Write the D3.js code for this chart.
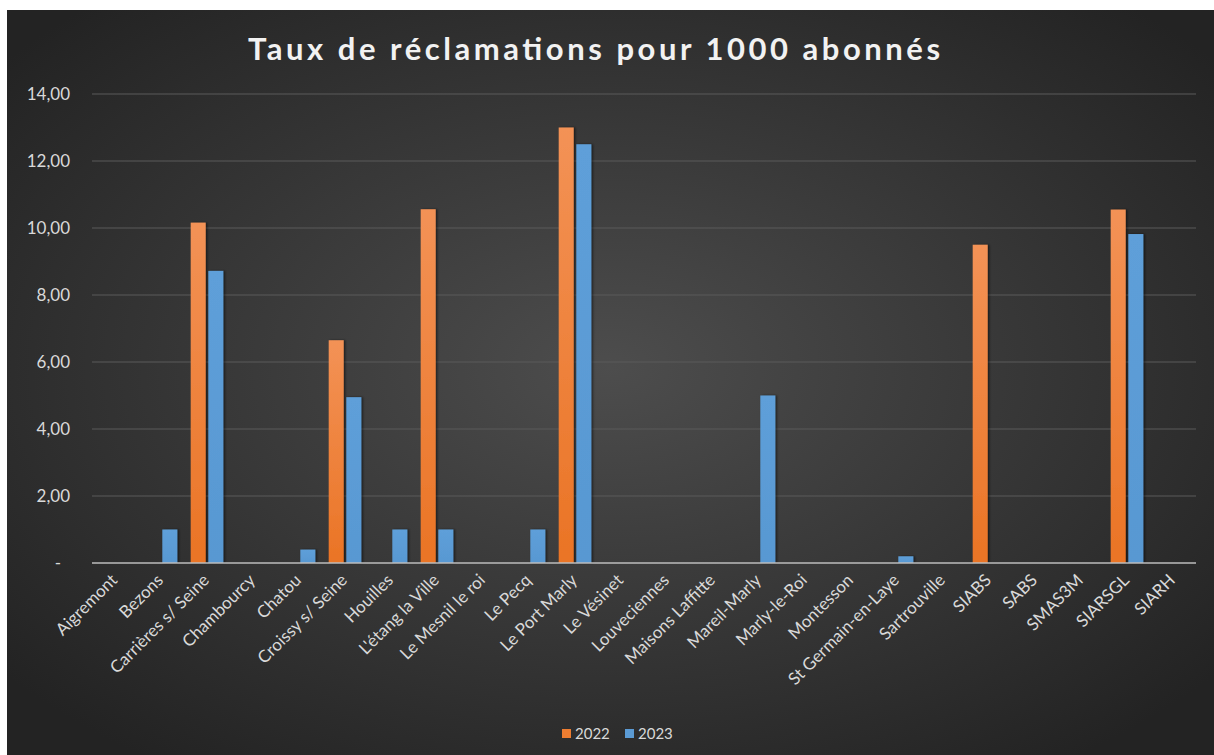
<html>
<head>
<meta charset="utf-8">
<style>
  body { margin: 0; background: #fff; }
  svg { display: block; }
</style>
</head>
<body>
<svg width="1214" height="755" id="chart"></svg>
<script src="https://cdn.jsdelivr.net/npm/d3@7"></script>
<script>
// data
var communes = ["Aigremont", "Bezons", "Carrières s/ Seine", "Chambourcy", "Chatou",
  "Croissy s/ Seine", "Houilles", "L'étang la Ville", "Le Mesnil le roi", "Le Pecq",
  "Le Port Marly", "Le Vésinet", "Louveciennes", "Maisons Laffitte", "Mareil-Marly",
  "Marly-le-Roi", "Montesson", "St Germain-en-Laye", "Sartrouville", "SIABS",
  "SABS", "SMAS3M", "SIARSGL", "SIARH"];
var years = ["2022", "2023"];
var taux2022 = [0, 0, 10.16, 0, 0, 6.65, 0, 10.56, 0, 0, 13.0, 0, 0, 0, 0, 0, 0, 0, 0, 9.5, 0, 0, 10.55, 0];
var taux2023 = [0, 1.0, 8.72, 0, 0.4, 4.95, 1.0, 1.0, 0, 1.0, 12.5, 0, 0, 0, 5.0, 0, 0, 0.2, 0, 0, 0, 0, 9.82, 0];
var yTicks = [0, 2, 4, 6, 8, 10, 12, 14];
var couleurs = {"2022": "#ED7D31", "2023": "#5B9BD5"};

var svg = d3.select("#chart");
var font = "Lato, 'Open Sans', sans-serif";

// background with radial shading
var defs = svg.append("defs");
var rg = defs.append("radialGradient").attr("id", "bg")
  .attr("cx", "50%").attr("cy", "48%").attr("r", "65%");
rg.append("stop").attr("offset", "0%").attr("stop-color", "#4d4d4d");
rg.append("stop").attr("offset", "100%").attr("stop-color", "#232323");

var og = defs.append("linearGradient").attr("id", "g2022")
  .attr("x1", 0).attr("y1", 0).attr("x2", 0).attr("y2", 1);
og.append("stop").attr("offset", "0%").attr("stop-color", "#F39256");
og.append("stop").attr("offset", "100%").attr("stop-color", "#EA7425");
var bg2 = defs.append("linearGradient").attr("id", "g2023")
  .attr("x1", 0).attr("y1", 0).attr("x2", 0).attr("y2", 1);
bg2.append("stop").attr("offset", "0%").attr("stop-color", "#5E9FD9");
bg2.append("stop").attr("offset", "100%").attr("stop-color", "#5898D2");

var sh = defs.append("filter").attr("id", "shadow")
  .attr("x", "-30%").attr("y", "-5%").attr("width", "160%").attr("height", "110%");
sh.append("feDropShadow").attr("dx", 1.5).attr("dy", 0).attr("stdDeviation", 1)
  .attr("flood-color", "#000").attr("flood-opacity", 0.55);

svg.append("rect")
  .attr("x", 7).attr("y", 10).attr("width", 1207).attr("height", 745)
  .attr("fill", "url(#bg)");

var plotLeft = 92, plotRight = 1196, plotTop = 94, plotBottom = 563;

var x = d3.scaleBand().domain(communes).range([plotLeft, plotRight]).padding(0);
var xs = d3.scaleBand().domain(years).range([0, x.bandwidth()])
  .paddingInner(0.15).paddingOuter(0.38);
var y = d3.scaleLinear().domain([0, 14]).range([plotBottom, plotTop]);

// grid lines
svg.append("g").selectAll("line")
  .data(yTicks.filter(function(d) { return d > 0; }))
  .enter().append("line")
  .attr("x1", plotLeft).attr("x2", plotRight)
  .attr("y1", function(d) { return y(d); })
  .attr("y2", function(d) { return y(d); })
  .attr("stroke", "#5a5a5a").attr("stroke-width", 1);

// y labels
svg.append("g").selectAll("text")
  .data(yTicks)
  .enter().append("text")
  .attr("x", function(d) { return d === 0 ? 61 : 70; })
  .attr("y", function(d) { return y(d); })
  .attr("dy", "0.35em")
  .attr("text-anchor", "end")
  .style("font-family", font).style("font-size", "17px").style("fill", "#d9d9d9")
  .text(function(d) { return d === 0 ? "-" : d3.format(".2f")(d).replace(".", ","); });

// bars
var rows = communes.map(function(c, i) {
  return {commune: c, values: [{year: "2022", v: taux2022[i]}, {year: "2023", v: taux2023[i]}]};
});

var groups = svg.append("g").selectAll("g")
  .data(rows)
  .enter().append("g")
  .attr("transform", function(d) { return "translate(" + x(d.commune) + ",0)"; });

groups.selectAll("rect")
  .data(function(d) { return d.values.filter(function(v) { return v.v > 0; }); })
  .enter().append("rect")
  .attr("x", function(d) { return xs(d.year); })
  .attr("width", xs.bandwidth())
  .attr("y", function(d) { return y(d.v); })
  .attr("height", function(d) { return plotBottom - y(d.v); })
  .attr("fill", function(d) { return "url(#g" + d.year + ")"; })
  .attr("filter", "url(#shadow)");

// baseline
svg.append("line")
  .attr("x1", plotLeft).attr("x2", plotRight)
  .attr("y1", plotBottom).attr("y2", plotBottom)
  .attr("stroke", "#bdbdbd").attr("stroke-width", 1.5);

// x labels
svg.append("g").selectAll("text")
  .data(communes)
  .enter().append("text")
  .attr("transform", function(d) {
    return "translate(" + (x(d) + x.bandwidth() / 2 - 1) + "," + (plotBottom + 14) + ") rotate(-45)";
  })
  .attr("text-anchor", "end")
  .attr("dy", "0.35em")
  .style("font-family", font).style("font-size", "17px").style("fill", "#d9d9d9")
  .text(function(d) { return d; });

// title
svg.append("text")
  .attr("x", 594).attr("y", 60)
  .attr("text-anchor", "middle")
  .attr("textLength", 692).attr("lengthAdjust", "spacing")
  .style("font-family", font).style("font-size", "31px").style("font-weight", "bold")
  .style("fill", "#f2f2f2")
  .text("Taux de réclamations pour 1000 abonnés");

// legend
var legend = svg.append("g").selectAll("g")
  .data(years)
  .enter().append("g")
  .attr("transform", function(d, i) { return "translate(" + (562 + i * 63) + ",729)"; });
legend.append("rect")
  .attr("width", 9).attr("height", 9)
  .attr("fill", function(d) { return couleurs[d]; });
legend.append("text")
  .attr("x", 13).attr("y", 4.5).attr("dy", "0.35em")
  .style("font-family", font).style("font-size", "15px").style("fill", "#d9d9d9")
  .text(function(d) { return d; });
</script>
</body>
</html>
